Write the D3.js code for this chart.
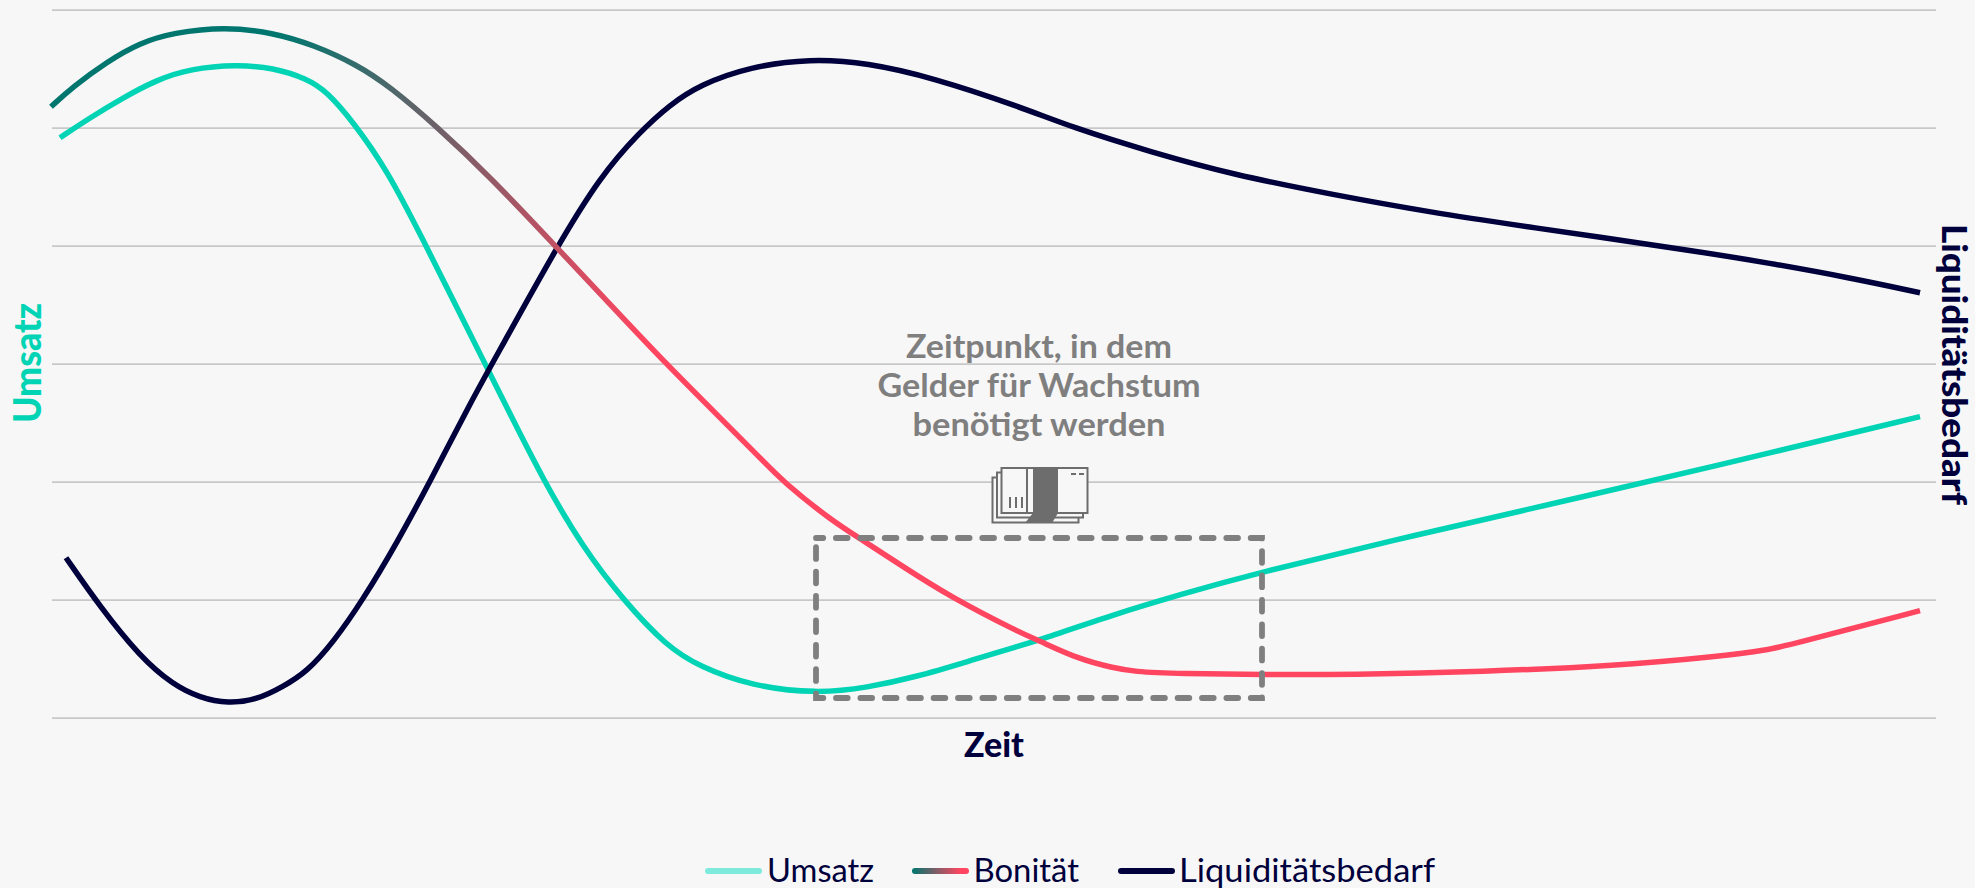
<!DOCTYPE html>
<html lang="de">
<head>
<meta charset="utf-8">
<script src="https://cdn.jsdelivr.net/npm/d3@7"></script>
<style>
html,body{margin:0;padding:0;background:#f7f7f7;overflow:hidden}
svg{display:block}
text{font-family:Lato,"Open Sans",sans-serif}
</style>
</head>
<body>
<svg id="chart" width="1975" height="888"></svg>
<script>
// Chart data: time and level in arbitrary chart units (the original has no numeric scale)
const yTicks = [0,118,236,354,472,590,708];

const umsatzZeit = [8,38,71,105,138,185,221,255,275,301,335,371,405,436,451,491,531,571,615,648,698,765,815,865,915,968,988,1061,1128,1198,1365,1518,1648,1868];
const umsatzWerte = [580,600,620,638,649,653,650,639,626,596,548,478,410,348,318,238,170,118,71,51,32,24,30,41,56,72,78,103,123,143,183,218,248,301];

const bonitaetZeit = [-1,21,55,88,121,173,221,261,305,338,385,438,505,565,615,665,710,731,781,810,848,898,968,985,1028,1061,1081,1128,1211,1298,1431,1565,1665,1718,1738,1868];
const bonitaetWerte = [611,631,656,675,685,691,685,673,653,631,591,541,470,406,353,303,258,236,196,178,153,121,85,78,58,50,46,44,43,43,46,52,61,68,73,107];

const bedarfZeit = [14,48,88,121,148,176,205,231,255,281,311,345,378,420,448,505,548,588,618,648,698,758,815,881,968,1021,1098,1181,1281,1381,1468,1648,1715,1798,1868];
const bedarfWerte = [160,111,61,33,20,14,18,31,46,75,118,175,236,318,368,471,541,586,613,633,651,659,655,640,611,590,566,543,523,505,492,466,455,440,425];

const legendLabels = ["Umsatz","Bonität","Liquiditätsbedarf"];
const annotationLines = ["Zeitpunkt, in dem","Gelder für Wachstum","benötigt werden"];
const windowZeit = [764,1210];
const windowWerte = [19.7,179.7];

const TEAL="#00d4b4", TEAL_DARK="#00766f", RED="#ff4560", NAVY="#00003c", GREY="#7f7f7f", ICON="#6d6d6d", BG="#f7f7f7";

const svg=d3.select("#chart");
const x=d3.scaleLinear().domain([0,1884]).range([52,1936]);
const y=d3.scaleLinear().domain([0,708]).range([717.7,9.7]);

// gradient of the Bonität line
const defs=svg.append("defs");
const grad=defs.append("linearGradient").attr("id","boni").attr("gradientUnits","userSpaceOnUse")
  .attr("x1",x(230)).attr("x2",x(590)).attr("y1",0).attr("y2",0);
grad.append("stop").attr("offset",0).attr("stop-color",TEAL_DARK);
grad.append("stop").attr("offset",1).attr("stop-color",RED);
const lg=defs.append("linearGradient").attr("id","boniLegend");
lg.append("stop").attr("offset",0).attr("stop-color",TEAL_DARK);
lg.append("stop").attr("offset",.85).attr("stop-color",RED);

// grid from the axis
const axis=d3.axisLeft(y).tickValues(yTicks).tickSize(-(x.range()[1]-x.range()[0])).tickFormat("");
const g=svg.append("g").attr("transform",`translate(${x.range()[0]},0)`).call(axis);
g.select(".domain").remove();
g.selectAll("line").attr("stroke","#c8c8c8").attr("stroke-width",1.8);

const line=d3.line().x(d=>x(d[0])).y(d=>y(d[1])).curve(d3.curveBasis);
function series(ts,vs,stroke){
  svg.append("path").datum(d3.zip(ts,vs)).attr("d",line).attr("fill","none")
    .attr("stroke",stroke).attr("stroke-width",5.5).attr("stroke-linecap","butt").attr("stroke-linejoin","round");
}
series(umsatzZeit,umsatzWerte,TEAL);
series(bedarfZeit,bedarfWerte,NAVY);
series(bonitaetZeit,bonitaetWerte,"url(#boni)");

// dashed window
const wx0=x(windowZeit[0]),wx1=x(windowZeit[1]),wy0=y(windowWerte[1]),wy1=y(windowWerte[0]);
svg.append("path").attr("d",`M${wx0},${wy0}H${wx1}V${wy1}H${wx0}Z`).attr("fill","none")
  .attr("stroke",GREY).attr("stroke-width",5.8).attr("stroke-linecap","round")
  .attr("stroke-dasharray","11.7 12.7").attr("stroke-dashoffset",4.5);

// banknote icon
const ic=svg.append("g").attr("stroke",ICON).attr("stroke-width",2).attr("fill",BG);
[[992.5,477.5,86,45],[997,472.5,86,45],[1001.5,468,86,45]].forEach(r=>{
  ic.append("rect").attr("x",r[0]).attr("y",r[1]).attr("width",r[2]).attr("height",r[3]);
});
ic.append("path").attr("d","M1033,468H1058V513L1052,523H1025L1033,513Z").attr("fill",ICON).attr("stroke","none");
ic.append("line").attr("x1",1027).attr("x2",1027).attr("y1",468).attr("y2",513);
[1010,1016,1022].forEach(v=>ic.append("line").attr("x1",v).attr("x2",v).attr("y1",497).attr("y2",508));
[[1071,1076],[1079,1084]].forEach(v=>ic.append("line").attr("x1",v[0]).attr("x2",v[1]).attr("y1",474).attr("y2",474));

// annotation
const annotationW=[266,323,253];
svg.append("g").selectAll("text").data(annotationLines).join("text")
  .attr("x",1039).attr("y",(d,i)=>358+i*39).attr("text-anchor","middle")
  .attr("font-size",32).attr("font-weight",700).attr("fill",GREY)
  .attr("textLength",(d,i)=>annotationW[i]).attr("lengthAdjust","spacingAndGlyphs")
  .text(d=>d);

// axis titles
svg.append("text").attr("x",994).attr("y",757).attr("text-anchor","middle")
  .attr("font-size",34).attr("font-weight",900).attr("fill",NAVY).text("Zeit");
svg.append("text").attr("transform","translate(41,423) rotate(-90)")
  .attr("font-size",37).attr("font-weight",900).attr("fill",TEAL)
  .attr("textLength",120).attr("lengthAdjust","spacingAndGlyphs").text("Umsatz");
svg.append("text").attr("transform","translate(1942,224) rotate(90)")
  .attr("font-size",34).attr("font-weight",900).attr("fill",NAVY)
  .attr("textLength",281).attr("lengthAdjust","spacingAndGlyphs").text("Liquiditätsbedarf");

// legend
const legendSwatchX=[705,912,1118];
const legendTextX=[767,973.5,1179];
const legendTextW=[107,105.5,256];
const legendColors=["#7deadb","url(#boniLegend)",NAVY];
const lgd=svg.append("g");
legendLabels.forEach((t,i)=>{
  lgd.append("rect").attr("x",legendSwatchX[i]).attr("y",868).attr("width",57).attr("height",6)
    .attr("rx",3).attr("fill",legendColors[i]);
  lgd.append("text").attr("x",legendTextX[i]).attr("y",882).attr("font-size",32).attr("font-weight",400)
    .attr("fill",NAVY).attr("textLength",legendTextW[i]).attr("lengthAdjust","spacingAndGlyphs").text(t);
});
</script>
</body>
</html>
